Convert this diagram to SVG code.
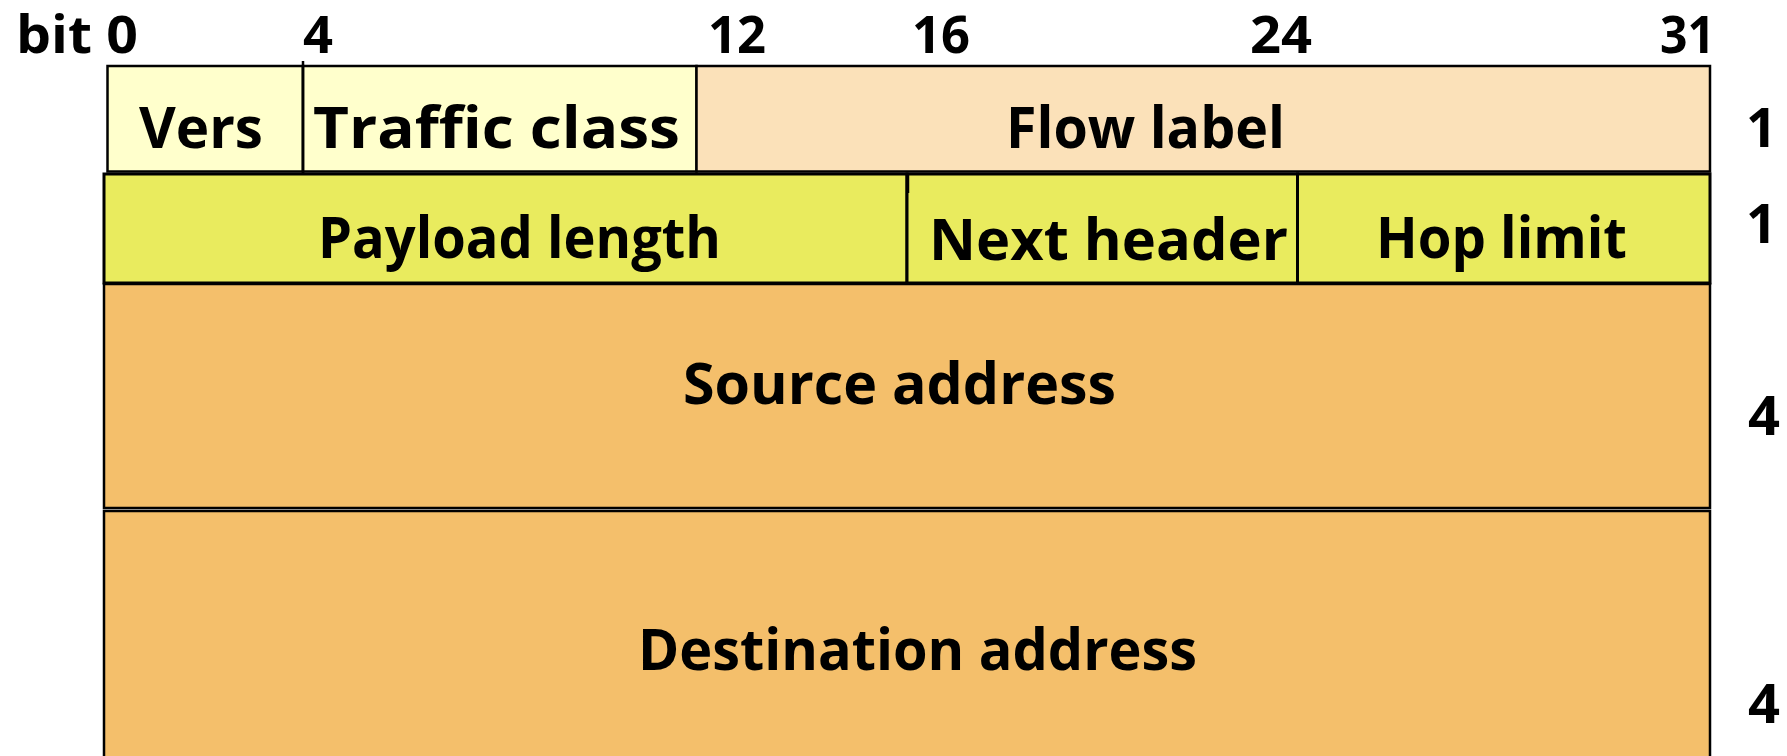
<svg xmlns="http://www.w3.org/2000/svg" width="1787" height="756" viewBox="0 0 1787 756">
<style>
.t{font-family:"Open Sans","DejaVu Sans",sans-serif;font-weight:700;fill:#000}
.lbl{font-size:58px}
.num{font-size:52px}
.side{font-size:54px}
.b{stroke:#000;stroke-width:2.5}
.b3{stroke:#000;stroke-width:3}
</style>
<rect width="1787" height="756" fill="#fff"/>
<g id="bit-scale">
<text class="t num" x="16" y="53" textLength="122" lengthAdjust="spacingAndGlyphs">bit 0</text>
<text class="t num" x="303" y="53" textLength="30" lengthAdjust="spacingAndGlyphs">4</text>
<text class="t num" x="708" y="53" textLength="58" lengthAdjust="spacingAndGlyphs">12</text>
<text class="t num" x="912" y="53" textLength="58" lengthAdjust="spacingAndGlyphs">16</text>
<text class="t num" x="1250" y="53" textLength="62" lengthAdjust="spacingAndGlyphs">24</text>
<text class="t num" x="1660" y="53" textLength="55" lengthAdjust="spacingAndGlyphs">31</text>
</g>
<g id="vers">
<rect class="b" x="107.5" y="66" width="195.5" height="105.5" fill="#FFFFCC"/>
<text class="t lbl" x="139" y="148" textLength="124" lengthAdjust="spacingAndGlyphs">Vers</text>
</g>
<g id="traffic-class">
<rect class="b" x="303" y="66" width="393.5" height="105.5" fill="#FFFFCC"/>
<text class="t lbl" x="313" y="148" textLength="367" lengthAdjust="spacingAndGlyphs">Traffic class</text>
</g>
<g id="flow-label">
<rect class="b" x="696.5" y="66" width="1013.5" height="105.5" fill="#FBE1B9"/>
<text class="t lbl" x="1006" y="148" textLength="279" lengthAdjust="spacingAndGlyphs">Flow label</text>
</g>
<g id="payload-length">
<rect class="b3" x="104" y="174" width="803" height="109" fill="#E9EB5E"/>
<text class="t lbl" x="318" y="258" textLength="403" lengthAdjust="spacingAndGlyphs">Payload length</text>
</g>
<g id="next-header">
<rect class="b3" x="907" y="174" width="390.5" height="109" fill="#E9EB5E"/>
<text class="t lbl" x="929" y="260" textLength="359" lengthAdjust="spacingAndGlyphs">Next header</text>
</g>
<g id="hop-limit">
<rect class="b3" x="1297.5" y="174" width="412.5" height="109" fill="#E9EB5E"/>
<text class="t lbl" x="1376" y="258" textLength="251" lengthAdjust="spacingAndGlyphs">Hop limit</text>
</g>
<g id="source-address">
<rect class="b" x="104" y="284" width="1606" height="224" fill="#F4BF6B"/>
<text class="t lbl" x="683" y="404" textLength="433" lengthAdjust="spacingAndGlyphs">Source address</text>
</g>
<g id="destination-address">
<rect class="b" x="104" y="511" width="1606" height="270" fill="#F4BF6B"/>
<text class="t lbl" x="638" y="670" textLength="559" lengthAdjust="spacingAndGlyphs">Destination address</text>
</g>
<g id="ticks">
<line class="b" x1="303" y1="61" x2="303" y2="173"/>
<line x1="908.5" y1="174" x2="908.5" y2="193" stroke="#000" stroke-width="1.5"/>
</g>
<g id="word-counts">
<text class="t side" x="1746" y="147">1</text>
<text class="t side" x="1746" y="243">1</text>
<text class="t side" x="1748" y="435" textLength="32" lengthAdjust="spacingAndGlyphs">4</text>
<text class="t side" x="1748" y="723" textLength="32" lengthAdjust="spacingAndGlyphs">4</text>
</g>
</svg>
